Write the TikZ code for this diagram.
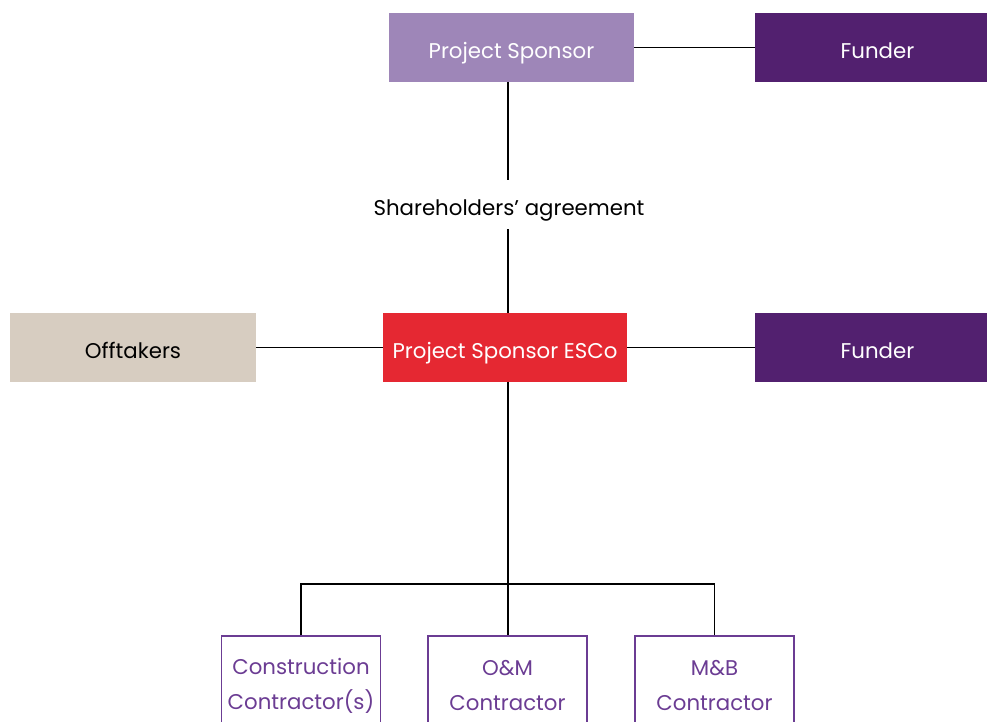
\documentclass[tikz,border=0pt]{standalone}
\usepackage{fontspec}
\setmainfont{Poppins}
\definecolor{lilac}{HTML}{9E86B8}
\definecolor{plum}{HTML}{52206F}
\definecolor{sand}{HTML}{D7CDC1}
\definecolor{escored}{HTML}{E52832}
\definecolor{ctrpurple}{HTML}{6B3C93}
\begin{document}
\begin{tikzpicture}[x=1pt,y=1pt,
  box/.style={rectangle, inner sep=0pt, minimum height=69pt, text height=21.6pt, text depth=0pt,
     font=\fontsize{21.3}{24}\selectfont},
  fillbox/.style={box, text=white},
  ctrbox/.style={rectangle, inner sep=0pt, draw=ctrpurple, line width=1.3pt, text=ctrpurple,
     minimum width=159pt, minimum height=100pt, align=center, font=\fontsize{21.3}{35}\selectfont},
  conn/.style={line width=1.3pt, black}]
\useasboundingbox (0,0) rectangle (987,-722);
\clip (0,0) rectangle (987,-722);
\node[fillbox, fill=lilac, minimum width=245pt] (ps) at (511.5,-47.5) {Project Sponsor};
\node[fillbox, fill=plum, minimum width=245pt] (f1) at (877.5,-47.5) {Funder};
\node[inner sep=0pt, minimum height=49pt, text height=21.6pt, text depth=0pt,
      font=\fontsize{21.3}{24}\selectfont] (sh) at (509,-204.5) {Shareholders’ agreement};
\node[box, fill=sand, text=black, minimum width=246pt] (off) at (133,-347.5) {Offtakers};
\node[fillbox, fill=escored, minimum width=244pt] (esco) at (505,-347.5) {Project Sponsor ESCo};
\node[fillbox, fill=plum, minimum width=245pt] (f2) at (877.5,-347.5) {Funder};
\node[ctrbox] (c1) at (301,-686) {Construction\\Contractor(s)};
\node[ctrbox] (c2) at (507.5,-686) {O\&M\\Contractor};
\node[ctrbox] (c3) at (714.5,-686) {M\&B\\Contractor};
\coordinate (bus) at (508,-584);
\draw[conn] (ps.east) -- (f1.west);
\draw[conn] (off.east) -- (esco.west);
\draw[conn] (esco.east) -- (f2.west);
\draw[conn] (ps.south -| bus) -- (sh.north -| bus);
\draw[conn] (sh.south -| bus) -- (esco.north -| bus);
\draw[conn] (esco.south -| bus) -- (c2.north -| bus);
\draw[conn] (c1.north) |- (bus) -| (c3.north);
\end{tikzpicture}
\end{document}
